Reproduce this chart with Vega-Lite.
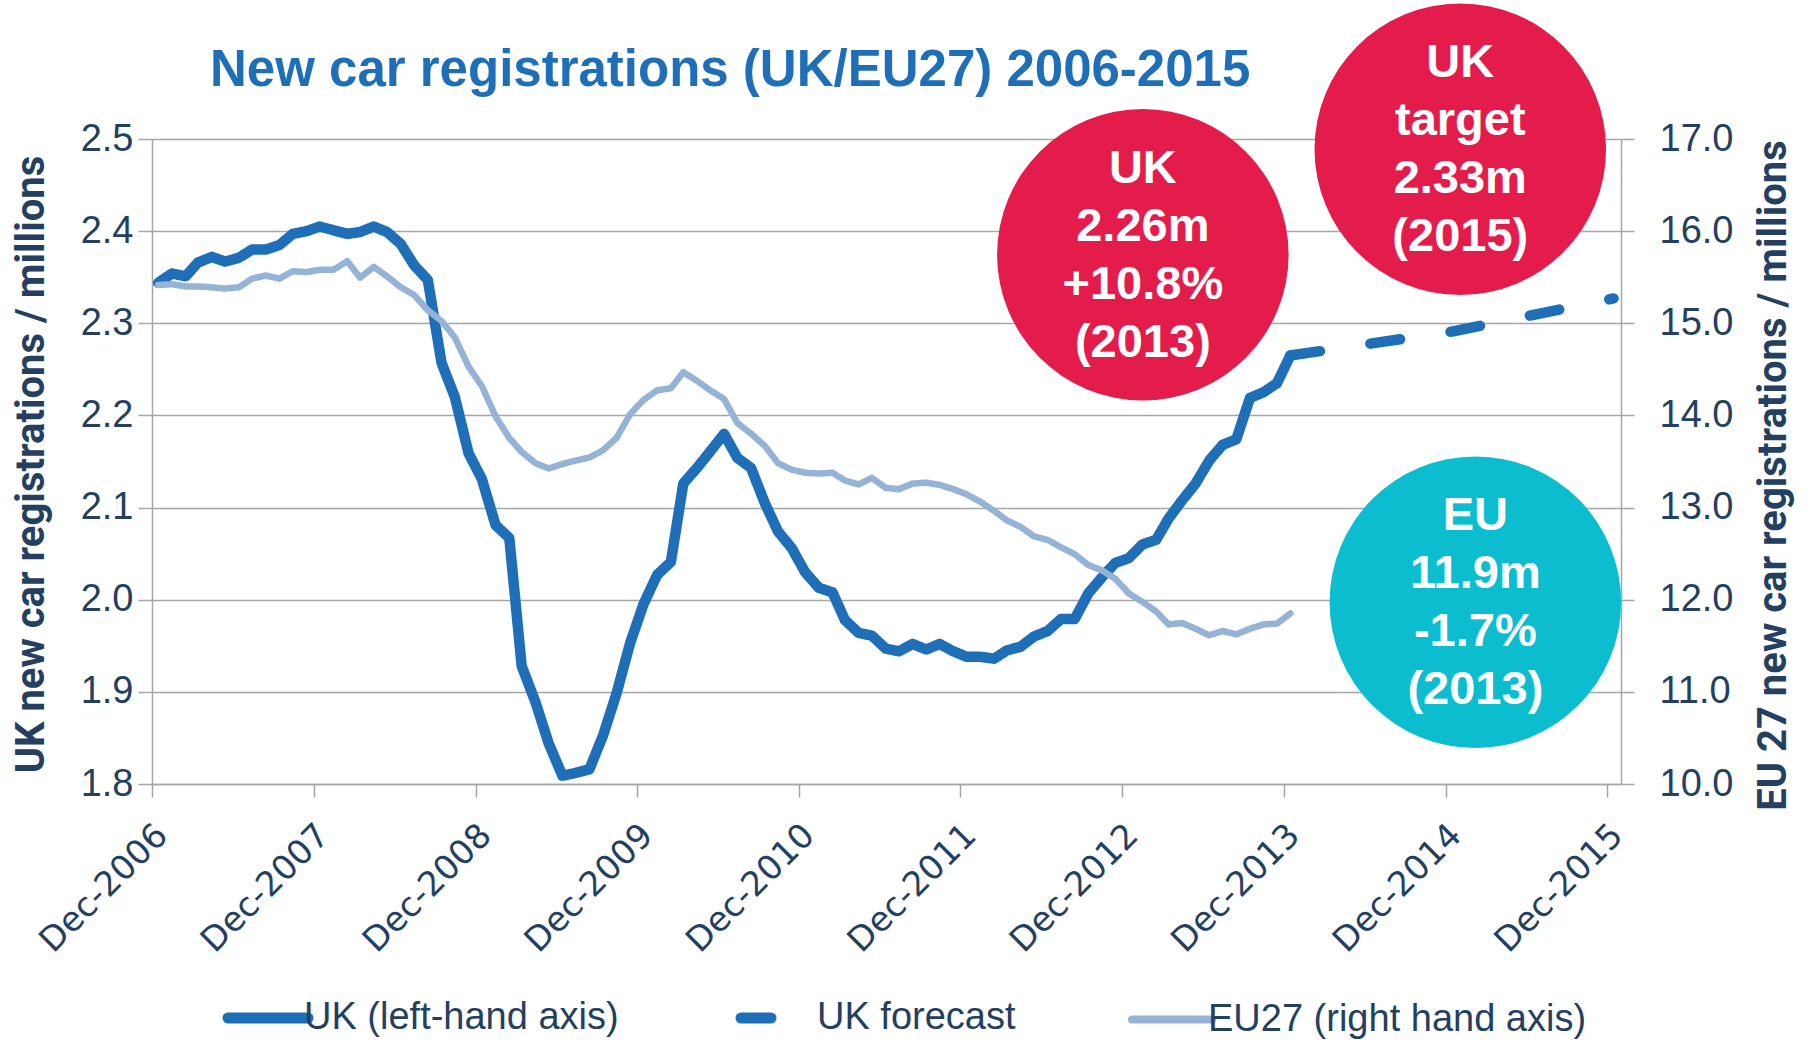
{
  "$schema": "https://vega.github.io/schema/vega-lite/v6.json",
  "width": 1469,
  "height": 645,
  "autosize": {"type": "none"},
  "padding": {"left": 152, "top": 139, "right": 186, "bottom": 259},
  "background": "white",
  "config": {"view": {"stroke": null}},
  "title": {
    "text": "New car registrations (UK/EU27) 2006-2015",
    "anchor": "start",
    "frame": "group",
    "dx": 58,
    "offset": -134,
    "baseline": "alphabetic",
    "font": "Liberation Sans",
    "fontSize": 51,
    "fontWeight": "bold",
    "color": "#1f6fb8"
  },
  "datasets": {
    "uk": [
      {"date": "2006-12-15", "series": "UK (left-hand axis)", "value": 2.344},
      {"date": "2007-01-15", "series": "UK (left-hand axis)", "value": 2.354},
      {"date": "2007-02-15", "series": "UK (left-hand axis)", "value": 2.351},
      {"date": "2007-03-15", "series": "UK (left-hand axis)", "value": 2.366},
      {"date": "2007-04-15", "series": "UK (left-hand axis)", "value": 2.372},
      {"date": "2007-05-15", "series": "UK (left-hand axis)", "value": 2.367},
      {"date": "2007-06-15", "series": "UK (left-hand axis)", "value": 2.371},
      {"date": "2007-07-15", "series": "UK (left-hand axis)", "value": 2.380},
      {"date": "2007-08-15", "series": "UK (left-hand axis)", "value": 2.380},
      {"date": "2007-09-15", "series": "UK (left-hand axis)", "value": 2.385},
      {"date": "2007-10-15", "series": "UK (left-hand axis)", "value": 2.397},
      {"date": "2007-11-15", "series": "UK (left-hand axis)", "value": 2.400},
      {"date": "2007-12-15", "series": "UK (left-hand axis)", "value": 2.405},
      {"date": "2008-01-15", "series": "UK (left-hand axis)", "value": 2.401},
      {"date": "2008-02-15", "series": "UK (left-hand axis)", "value": 2.397},
      {"date": "2008-03-15", "series": "UK (left-hand axis)", "value": 2.399},
      {"date": "2008-04-15", "series": "UK (left-hand axis)", "value": 2.405},
      {"date": "2008-05-15", "series": "UK (left-hand axis)", "value": 2.399},
      {"date": "2008-06-15", "series": "UK (left-hand axis)", "value": 2.386},
      {"date": "2008-07-15", "series": "UK (left-hand axis)", "value": 2.363},
      {"date": "2008-08-15", "series": "UK (left-hand axis)", "value": 2.347},
      {"date": "2008-09-15", "series": "UK (left-hand axis)", "value": 2.257},
      {"date": "2008-10-15", "series": "UK (left-hand axis)", "value": 2.220},
      {"date": "2008-11-15", "series": "UK (left-hand axis)", "value": 2.159},
      {"date": "2008-12-15", "series": "UK (left-hand axis)", "value": 2.131},
      {"date": "2009-01-15", "series": "UK (left-hand axis)", "value": 2.081},
      {"date": "2009-02-15", "series": "UK (left-hand axis)", "value": 2.067},
      {"date": "2009-03-15", "series": "UK (left-hand axis)", "value": 1.928},
      {"date": "2009-04-15", "series": "UK (left-hand axis)", "value": 1.889},
      {"date": "2009-05-15", "series": "UK (left-hand axis)", "value": 1.844},
      {"date": "2009-06-15", "series": "UK (left-hand axis)", "value": 1.809},
      {"date": "2009-07-15", "series": "UK (left-hand axis)", "value": 1.812},
      {"date": "2009-08-15", "series": "UK (left-hand axis)", "value": 1.816},
      {"date": "2009-09-15", "series": "UK (left-hand axis)", "value": 1.853},
      {"date": "2009-10-15", "series": "UK (left-hand axis)", "value": 1.898},
      {"date": "2009-11-15", "series": "UK (left-hand axis)", "value": 1.953},
      {"date": "2009-12-15", "series": "UK (left-hand axis)", "value": 1.995},
      {"date": "2010-01-15", "series": "UK (left-hand axis)", "value": 2.027},
      {"date": "2010-02-15", "series": "UK (left-hand axis)", "value": 2.041},
      {"date": "2010-03-15", "series": "UK (left-hand axis)", "value": 2.126},
      {"date": "2010-04-15", "series": "UK (left-hand axis)", "value": 2.143},
      {"date": "2010-05-15", "series": "UK (left-hand axis)", "value": 2.161},
      {"date": "2010-06-15", "series": "UK (left-hand axis)", "value": 2.180},
      {"date": "2010-07-15", "series": "UK (left-hand axis)", "value": 2.154},
      {"date": "2010-08-15", "series": "UK (left-hand axis)", "value": 2.143},
      {"date": "2010-09-15", "series": "UK (left-hand axis)", "value": 2.105},
      {"date": "2010-10-15", "series": "UK (left-hand axis)", "value": 2.074},
      {"date": "2010-11-15", "series": "UK (left-hand axis)", "value": 2.056},
      {"date": "2010-12-15", "series": "UK (left-hand axis)", "value": 2.030},
      {"date": "2011-01-15", "series": "UK (left-hand axis)", "value": 2.013},
      {"date": "2011-02-15", "series": "UK (left-hand axis)", "value": 2.008},
      {"date": "2011-03-15", "series": "UK (left-hand axis)", "value": 1.978},
      {"date": "2011-04-15", "series": "UK (left-hand axis)", "value": 1.964},
      {"date": "2011-05-15", "series": "UK (left-hand axis)", "value": 1.961},
      {"date": "2011-06-15", "series": "UK (left-hand axis)", "value": 1.947},
      {"date": "2011-07-15", "series": "UK (left-hand axis)", "value": 1.944},
      {"date": "2011-08-15", "series": "UK (left-hand axis)", "value": 1.952},
      {"date": "2011-09-15", "series": "UK (left-hand axis)", "value": 1.946},
      {"date": "2011-10-15", "series": "UK (left-hand axis)", "value": 1.952},
      {"date": "2011-11-15", "series": "UK (left-hand axis)", "value": 1.944},
      {"date": "2011-12-15", "series": "UK (left-hand axis)", "value": 1.938},
      {"date": "2012-01-15", "series": "UK (left-hand axis)", "value": 1.938},
      {"date": "2012-02-15", "series": "UK (left-hand axis)", "value": 1.936},
      {"date": "2012-03-15", "series": "UK (left-hand axis)", "value": 1.945},
      {"date": "2012-04-15", "series": "UK (left-hand axis)", "value": 1.949},
      {"date": "2012-05-15", "series": "UK (left-hand axis)", "value": 1.960},
      {"date": "2012-06-15", "series": "UK (left-hand axis)", "value": 1.966},
      {"date": "2012-07-15", "series": "UK (left-hand axis)", "value": 1.979},
      {"date": "2012-08-15", "series": "UK (left-hand axis)", "value": 1.979},
      {"date": "2012-09-15", "series": "UK (left-hand axis)", "value": 2.007},
      {"date": "2012-10-15", "series": "UK (left-hand axis)", "value": 2.024},
      {"date": "2012-11-15", "series": "UK (left-hand axis)", "value": 2.040},
      {"date": "2012-12-15", "series": "UK (left-hand axis)", "value": 2.045},
      {"date": "2013-01-15", "series": "UK (left-hand axis)", "value": 2.060},
      {"date": "2013-02-15", "series": "UK (left-hand axis)", "value": 2.065},
      {"date": "2013-03-15", "series": "UK (left-hand axis)", "value": 2.088},
      {"date": "2013-04-15", "series": "UK (left-hand axis)", "value": 2.108},
      {"date": "2013-05-15", "series": "UK (left-hand axis)", "value": 2.126},
      {"date": "2013-06-15", "series": "UK (left-hand axis)", "value": 2.151},
      {"date": "2013-07-15", "series": "UK (left-hand axis)", "value": 2.168},
      {"date": "2013-08-15", "series": "UK (left-hand axis)", "value": 2.174},
      {"date": "2013-09-15", "series": "UK (left-hand axis)", "value": 2.219},
      {"date": "2013-10-15", "series": "UK (left-hand axis)", "value": 2.225},
      {"date": "2013-11-15", "series": "UK (left-hand axis)", "value": 2.235},
      {"date": "2013-12-15", "series": "UK (left-hand axis)", "value": 2.265},
      {"date": "2013-12-15", "series": "UK forecast", "value": 2.265},
      {"date": "2014-12-15", "series": "UK forecast", "value": 2.291},
      {"date": "2015-12-15", "series": "UK forecast", "value": 2.327}
    ],
    "eu": [
      {"date": "2006-12-15", "series": "EU27 (right hand axis)", "value": 15.415},
      {"date": "2007-01-15", "series": "EU27 (right hand axis)", "value": 15.424},
      {"date": "2007-02-15", "series": "EU27 (right hand axis)", "value": 15.40},
      {"date": "2007-03-15", "series": "EU27 (right hand axis)", "value": 15.40},
      {"date": "2007-04-15", "series": "EU27 (right hand axis)", "value": 15.39},
      {"date": "2007-05-15", "series": "EU27 (right hand axis)", "value": 15.377},
      {"date": "2007-06-15", "series": "EU27 (right hand axis)", "value": 15.39},
      {"date": "2007-07-15", "series": "EU27 (right hand axis)", "value": 15.485},
      {"date": "2007-08-15", "series": "EU27 (right hand axis)", "value": 15.518},
      {"date": "2007-09-15", "series": "EU27 (right hand axis)", "value": 15.485},
      {"date": "2007-10-15", "series": "EU27 (right hand axis)", "value": 15.565},
      {"date": "2007-11-15", "series": "EU27 (right hand axis)", "value": 15.556},
      {"date": "2007-12-15", "series": "EU27 (right hand axis)", "value": 15.58},
      {"date": "2008-01-15", "series": "EU27 (right hand axis)", "value": 15.58},
      {"date": "2008-02-15", "series": "EU27 (right hand axis)", "value": 15.674},
      {"date": "2008-03-15", "series": "EU27 (right hand axis)", "value": 15.495},
      {"date": "2008-04-15", "series": "EU27 (right hand axis)", "value": 15.612},
      {"date": "2008-05-15", "series": "EU27 (right hand axis)", "value": 15.509},
      {"date": "2008-06-15", "series": "EU27 (right hand axis)", "value": 15.391},
      {"date": "2008-07-15", "series": "EU27 (right hand axis)", "value": 15.307},
      {"date": "2008-08-15", "series": "EU27 (right hand axis)", "value": 15.142},
      {"date": "2008-09-15", "series": "EU27 (right hand axis)", "value": 15.024},
      {"date": "2008-10-15", "series": "EU27 (right hand axis)", "value": 14.846},
      {"date": "2008-11-15", "series": "EU27 (right hand axis)", "value": 14.53},
      {"date": "2008-12-15", "series": "EU27 (right hand axis)", "value": 14.319},
      {"date": "2009-01-15", "series": "EU27 (right hand axis)", "value": 13.99},
      {"date": "2009-02-15", "series": "EU27 (right hand axis)", "value": 13.755},
      {"date": "2009-03-15", "series": "EU27 (right hand axis)", "value": 13.604},
      {"date": "2009-04-15", "series": "EU27 (right hand axis)", "value": 13.482},
      {"date": "2009-05-15", "series": "EU27 (right hand axis)", "value": 13.425},
      {"date": "2009-06-15", "series": "EU27 (right hand axis)", "value": 13.472},
      {"date": "2009-07-15", "series": "EU27 (right hand axis)", "value": 13.51},
      {"date": "2009-08-15", "series": "EU27 (right hand axis)", "value": 13.543},
      {"date": "2009-09-15", "series": "EU27 (right hand axis)", "value": 13.623},
      {"date": "2009-10-15", "series": "EU27 (right hand axis)", "value": 13.755},
      {"date": "2009-11-15", "series": "EU27 (right hand axis)", "value": 14.013},
      {"date": "2009-12-15", "series": "EU27 (right hand axis)", "value": 14.168},
      {"date": "2010-01-15", "series": "EU27 (right hand axis)", "value": 14.272},
      {"date": "2010-02-15", "series": "EU27 (right hand axis)", "value": 14.295},
      {"date": "2010-03-15", "series": "EU27 (right hand axis)", "value": 14.469},
      {"date": "2010-04-15", "series": "EU27 (right hand axis)", "value": 14.375},
      {"date": "2010-05-15", "series": "EU27 (right hand axis)", "value": 14.272},
      {"date": "2010-06-15", "series": "EU27 (right hand axis)", "value": 14.178},
      {"date": "2010-07-15", "series": "EU27 (right hand axis)", "value": 13.919},
      {"date": "2010-08-15", "series": "EU27 (right hand axis)", "value": 13.802},
      {"date": "2010-09-15", "series": "EU27 (right hand axis)", "value": 13.67},
      {"date": "2010-10-15", "series": "EU27 (right hand axis)", "value": 13.482},
      {"date": "2010-11-15", "series": "EU27 (right hand axis)", "value": 13.411},
      {"date": "2010-12-15", "series": "EU27 (right hand axis)", "value": 13.378},
      {"date": "2011-01-15", "series": "EU27 (right hand axis)", "value": 13.369},
      {"date": "2011-02-15", "series": "EU27 (right hand axis)", "value": 13.378},
      {"date": "2011-03-15", "series": "EU27 (right hand axis)", "value": 13.294},
      {"date": "2011-04-15", "series": "EU27 (right hand axis)", "value": 13.251},
      {"date": "2011-05-15", "series": "EU27 (right hand axis)", "value": 13.322},
      {"date": "2011-06-15", "series": "EU27 (right hand axis)", "value": 13.214},
      {"date": "2011-07-15", "series": "EU27 (right hand axis)", "value": 13.20},
      {"date": "2011-08-15", "series": "EU27 (right hand axis)", "value": 13.26},
      {"date": "2011-09-15", "series": "EU27 (right hand axis)", "value": 13.27},
      {"date": "2011-10-15", "series": "EU27 (right hand axis)", "value": 13.246},
      {"date": "2011-11-15", "series": "EU27 (right hand axis)", "value": 13.20},
      {"date": "2011-12-15", "series": "EU27 (right hand axis)", "value": 13.143},
      {"date": "2012-01-15", "series": "EU27 (right hand axis)", "value": 13.063},
      {"date": "2012-02-15", "series": "EU27 (right hand axis)", "value": 12.964},
      {"date": "2012-03-15", "series": "EU27 (right hand axis)", "value": 12.861},
      {"date": "2012-04-15", "series": "EU27 (right hand axis)", "value": 12.79},
      {"date": "2012-05-15", "series": "EU27 (right hand axis)", "value": 12.687},
      {"date": "2012-06-15", "series": "EU27 (right hand axis)", "value": 12.649},
      {"date": "2012-07-15", "series": "EU27 (right hand axis)", "value": 12.569},
      {"date": "2012-08-15", "series": "EU27 (right hand axis)", "value": 12.494},
      {"date": "2012-09-15", "series": "EU27 (right hand axis)", "value": 12.376},
      {"date": "2012-10-15", "series": "EU27 (right hand axis)", "value": 12.32},
      {"date": "2012-11-15", "series": "EU27 (right hand axis)", "value": 12.226},
      {"date": "2012-12-15", "series": "EU27 (right hand axis)", "value": 12.07},
      {"date": "2013-01-15", "series": "EU27 (right hand axis)", "value": 11.977},
      {"date": "2013-02-15", "series": "EU27 (right hand axis)", "value": 11.873},
      {"date": "2013-03-15", "series": "EU27 (right hand axis)", "value": 11.732},
      {"date": "2013-04-15", "series": "EU27 (right hand axis)", "value": 11.746},
      {"date": "2013-05-15", "series": "EU27 (right hand axis)", "value": 11.685},
      {"date": "2013-06-15", "series": "EU27 (right hand axis)", "value": 11.614},
      {"date": "2013-07-15", "series": "EU27 (right hand axis)", "value": 11.661},
      {"date": "2013-08-15", "series": "EU27 (right hand axis)", "value": 11.624},
      {"date": "2013-09-15", "series": "EU27 (right hand axis)", "value": 11.685},
      {"date": "2013-10-15", "series": "EU27 (right hand axis)", "value": 11.732},
      {"date": "2013-11-15", "series": "EU27 (right hand axis)", "value": 11.741},
      {"date": "2013-12-15", "series": "EU27 (right hand axis)", "value": 11.85}
    ],
    "notes": [
      {"date": "2013-01-16", "value": 2.3744, "tone": "UK", "label": "UK|2.26m|+10.8%|(2013)"},
      {"date": "2015-01-03", "value": 2.4889, "tone": "UK", "label": "UK|target|2.33m|(2015)"},
      {"date": "2015-02-06", "value": 1.9973, "tone": "EU", "label": "EU|11.9m|-1.7%|(2013)"}
    ]
  },
  "layer": [
    {
      "layer": [
        {
          "data": {"name": "uk"},
          "mark": {"type": "line", "strokeWidth": 10.5, "strokeCap": "round", "strokeJoin": "round"},
          "encoding": {
            "x": {
              "field": "date",
              "type": "temporal",
              "scale": {
                "type": "utc",
                "domain": [
                  {"year": 2006, "month": 12, "date": 1, "utc": true},
                  {"year": 2016, "month": 1, "date": 1, "utc": true}
                ]
              },
              "axis": {
                "title": null,
                "values": [
                  {"year": 2006, "month": 12, "date": 1, "utc": true},
                  {"year": 2007, "month": 12, "date": 1, "utc": true},
                  {"year": 2008, "month": 12, "date": 1, "utc": true},
                  {"year": 2009, "month": 12, "date": 1, "utc": true},
                  {"year": 2010, "month": 12, "date": 1, "utc": true},
                  {"year": 2011, "month": 12, "date": 1, "utc": true},
                  {"year": 2012, "month": 12, "date": 1, "utc": true},
                  {"year": 2013, "month": 12, "date": 1, "utc": true},
                  {"year": 2014, "month": 12, "date": 1, "utc": true},
                  {"year": 2015, "month": 12, "date": 1, "utc": true}
                ],
                "format": "%b-%Y",
                "grid": false,
                "domainColor": "#a6a6a6",
                "domainWidth": 1.5,
                "tickColor": "#a6a6a6",
                "tickWidth": 1.5,
                "tickSize": 13,
                "labelAngle": -45,
                "labelAlign": "right",
                "labelBaseline": "middle",
                "labelPadding": 33,
                "labelOffset": 10,
                "labelFont": "DejaVu Sans",
                "labelFontSize": 34,
                "labelColor": "#243f60",
                "labelOverlap": false,
                "labelFlush": false,
                "labelBound": false,
                "labelLimit": 0
              }
            },
            "y": {
              "field": "value",
              "type": "quantitative",
              "scale": {"domain": [1.8, 2.5], "nice": false, "zero": false},
              "axis": {
                "orient": "left",
                "values": [1.8, 1.9, 2.0, 2.1, 2.2, 2.3, 2.4, 2.5],
                "format": ".1f",
                "grid": true,
                "gridColor": "#a6a6a6",
                "gridWidth": 1.5,
                "domainColor": "#a6a6a6",
                "domainWidth": 1.5,
                "tickColor": "#a6a6a6",
                "tickWidth": 1.5,
                "tickSize": 14,
                "labelFont": "Liberation Sans",
                "labelFontSize": 38,
                "labelColor": "#243f60",
                "labelPadding": 5,
                "title": "UK new car registrations / millions",
                "titleFont": "Roboto",
                "titleFontWeight": "bold",
                "titleFontSize": 40,
                "titleColor": "#243f60",
                "titleAngle": 270,
                "titleAlign": "center",
                "titleBaseline": "alphabetic",
                "titleX": -109,
                "titleY": 325
              }
            },
            "color": {
              "field": "series",
              "type": "nominal",
              "scale": {
                "domain": ["UK (left-hand axis)", "UK forecast", "EU27 (right hand axis)"],
                "range": ["#1f6fb8", "#1f6fb8", "#95b3d7"]
              },
              "legend": {
                "orient": "none",
                "legendX": 97,
                "legendY": 860,
                "direction": "horizontal",
                "title": null,
                "symbolType": "stroke",
                "symbolSize": 6400,
                "symbolStrokeWidth": 10,
                "labelFont": "Liberation Sans",
                "labelFontSize": 38,
                "labelColor": "#243f60",
                "labelOffset": 17,
                "columnPadding": 100,
                "labelLimit": 0,
                "padding": 0,
                "encode": {
                  "symbols": {
                    "update": {
                      "strokeWidth": {"signal": "datum.value === 'EU27 (right hand axis)' ? 8 : 11"},
                      "strokeCap": {"value": "round"}
                    }
                  }
                }
              }
            },
            "strokeDash": {
              "field": "series",
              "type": "nominal",
              "scale": {
                "domain": ["UK (left-hand axis)", "UK forecast", "EU27 (right hand axis)"],
                "range": [[1, 0], [30, 51], [1, 0]]
              }
            }
          }
        },
        {
          "data": {"name": "notes"},
          "mark": {"type": "point", "shape": "circle", "filled": true, "opacity": 1, "size": 85000, "strokeWidth": 0},
          "encoding": {
            "x": {"field": "date", "type": "temporal"},
            "y": {"field": "value", "type": "quantitative"},
            "fill": {
              "field": "tone",
              "type": "nominal",
              "scale": {"domain": ["UK", "EU"], "range": ["#e31c4b", "#0bbdcf"]},
              "legend": null
            }
          }
        },
        {
          "data": {"name": "notes"},
          "mark": {
            "type": "text",
            "font": "Liberation Sans",
            "fontWeight": "bold",
            "fontSize": 47,
            "color": "white",
            "lineBreak": "|",
            "lineHeight": 58,
            "align": "center",
            "baseline": "middle",
            "dy": -86
          },
          "encoding": {
            "x": {"field": "date", "type": "temporal"},
            "y": {"field": "value", "type": "quantitative"},
            "text": {"field": "label", "type": "nominal"}
          }
        }
      ]
    },
    {
      "data": {"name": "eu"},
      "mark": {"type": "line", "strokeWidth": 6.5, "strokeCap": "round", "strokeJoin": "round"},
      "encoding": {
        "x": {"field": "date", "type": "temporal"},
        "y": {
          "field": "value",
          "type": "quantitative",
          "scale": {"domain": [10, 17], "nice": false, "zero": false},
          "axis": {
            "orient": "right",
            "values": [10, 11, 12, 13, 14, 15, 16, 17],
            "format": ".1f",
            "grid": false,
            "domainColor": "#a6a6a6",
            "domainWidth": 1.5,
            "tickColor": "#a6a6a6",
            "tickWidth": 1.5,
            "tickSize": 13,
            "labelFont": "Liberation Sans",
            "labelFontSize": 38,
            "labelColor": "#243f60",
            "labelPadding": 25,
            "title": "EU 27 new car registrations / millions",
            "titleFont": "Roboto",
            "titleFontWeight": "bold",
            "titleFontSize": 40,
            "titleColor": "#243f60",
            "titleAngle": 270,
            "titleAlign": "center",
            "titleBaseline": "alphabetic",
            "titleX": 164,
            "titleY": 336
          }
        },
        "color": {
          "field": "series",
          "type": "nominal",
          "scale": {
            "domain": ["UK (left-hand axis)", "UK forecast", "EU27 (right hand axis)"],
            "range": ["#1f6fb8", "#1f6fb8", "#95b3d7"]
          }
        },
        "strokeDash": {
          "field": "series",
          "type": "nominal",
          "scale": {
            "domain": ["UK (left-hand axis)", "UK forecast", "EU27 (right hand axis)"],
            "range": [[1, 0], [30, 51], [1, 0]]
          }
        }
      }
    }
  ],
  "resolve": {"scale": {"y": "independent"}, "axis": {"y": "independent"}}
}
